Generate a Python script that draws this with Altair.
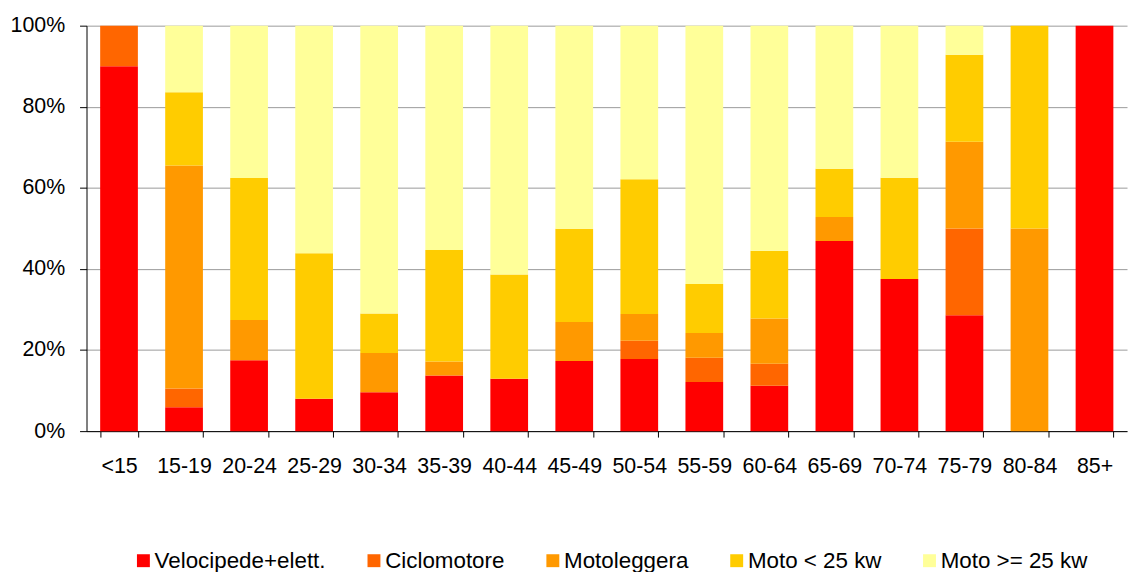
import altair as alt
import pandas as pd

categories = ["<15", "15-19", "20-24", "25-29", "30-34", "35-39", "40-44", "45-49",
              "50-54", "55-59", "60-64", "65-69", "70-74", "75-79", "80-84", "85+"]
series = ["Velocipede+elett.", "Ciclomotore", "Motoleggera", "Moto < 25 kw", "Moto >= 25 kw"]
colors = ["#FF0000", "#FF6600", "#FF9900", "#FFCC00", "#FFFF99"]

velocipede = [90.0, 5.9, 17.5, 8.0, 9.6, 13.7, 12.9, 17.3, 17.8, 12.1, 11.2, 46.9, 37.5, 28.6, 0.0, 100.0]
ciclomotore = [10.0, 4.6, 0.0, 0.0, 0.0, 0.0, 0.0, 0.0, 4.5, 6.0, 5.4, 0.0, 0.0, 21.4, 0.0, 0.0]
motoleggera = [0.0, 55.0, 9.9, 0.0, 9.7, 3.5, 0.0, 9.6, 6.6, 6.1, 11.2, 5.9, 0.0, 21.4, 50.0, 0.0]
moto_lt25 = [0.0, 18.1, 35.0, 35.9, 9.7, 27.5, 25.7, 23.0, 33.2, 12.1, 16.7, 11.9, 25.0, 21.4, 50.0, 0.0]
moto_ge25 = [0.0, 16.4, 37.6, 56.1, 71.0, 55.3, 61.4, 50.1, 37.9, 63.7, 55.5, 35.3, 37.5, 7.2, 0.0, 0.0]

values = [velocipede, ciclomotore, motoleggera, moto_lt25, moto_ge25]
rows = []
for si, (s, vals) in enumerate(zip(series, values)):
    for c, v in zip(categories, vals):
        rows.append({"cat": c, "serie": s, "idx": si, "val": v})
df = pd.DataFrame(rows)

FONT = "Liberation Sans"

chart = alt.Chart(df).mark_bar().encode(
    x=alt.X("cat:N", sort=categories, title=None,
            scale=alt.Scale(paddingInner=0.42, paddingOuter=0.21),
            axis=alt.Axis(labelAngle=0, tickBand="extent", tickSize=6, labelPadding=19,
                          labelFontSize=21.5, labelFont=FONT, labelColor="#000000",
                          domainColor="#000000", tickColor="#000000", grid=False)),
    y=alt.Y("val:Q", stack="normalize", title=None,
            scale=alt.Scale(domain=[0, 1]),
            axis=alt.Axis(values=[0, 0.2, 0.4, 0.6, 0.8, 1.0], format=".0%", tickSize=7,
                          labelPadding=15, labelFontSize=21.5, labelFont=FONT,
                          labelColor="#000000", domainColor="#000000", tickColor="#000000",
                          gridColor="#9A9A9A", gridWidth=1)),
    color=alt.Color("serie:N", sort=series,
                    scale=alt.Scale(domain=series, range=colors),
                    legend=alt.Legend(title=None, orient="none", legendX=46, legendY=527,
                                      direction="horizontal",
                                      columns=5, symbolType="square", symbolSize=169,
                                      symbolStrokeWidth=0, labelFontSize=22.5, labelFont=FONT,
                                      labelColor="#000000", columnPadding=37,
                                      labelOffset=0, labelLimit=0,
                                      labelExpr="datum.label == 'Moto >= 25 kw' ? '\u00a0\u00a0Moto >= 25 kw' : datum.label")),
    order=alt.Order("idx:Q", sort="ascending"),
).properties(
    width=1047, height=408,
    padding={"left": 2, "top": 5, "right": 2, "bottom": 2},
).configure_view(stroke=None)

chart.save("out.html", embed_options={"renderer": "svg", "actions": False})
